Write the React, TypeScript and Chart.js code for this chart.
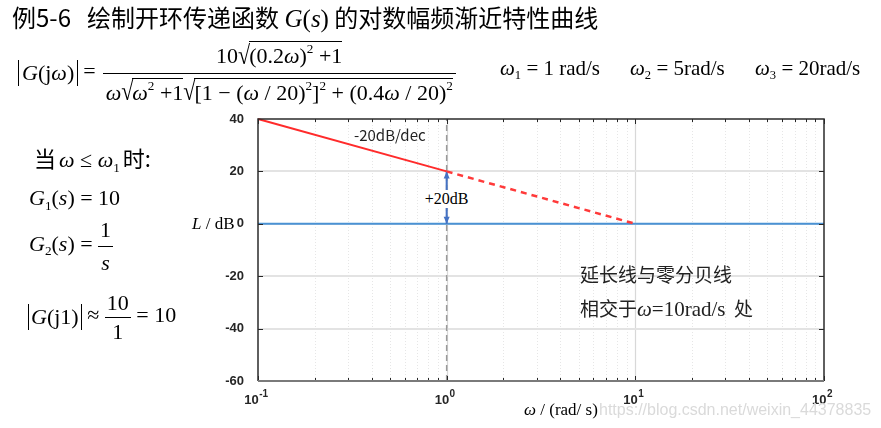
import React, { useEffect, useRef } from 'react';
import { Chart, registerables } from 'chart.js';

Chart.register(...registerables);

// ---- data ----
const X_MIN = 0.1;
const X_MAX = 100;
const Y_MIN = -60;
const Y_MAX = 40;
const Y_STEP = 20;
const yGridValues = [20, 0, -20, -40];
const xDecades = [0.1, 1, 10, 100];
const xDecadeExponents = ['-1', '0', '1', '2'];
const xMinor = [0.2, 0.3, 0.4, 0.5, 0.6, 0.7, 0.8, 0.9, 2, 3, 4, 5, 6, 7, 8, 9, 20, 30, 40, 50, 60, 70, 80, 90];
const slopeSolid = [{ x: 0.1, y: 40 }, { x: 1, y: 20 }];
const slopeDashed = [{ x: 1, y: 20 }, { x: 10, y: 0 }];
const zeroDbLine = [{ x: 0.1, y: 0 }, { x: 100, y: 0 }];
const cornerLine = [{ x: 1, y: -60 }, { x: 1, y: 40 }];
const gainArrow = [{ x: 1, y: 20 }, { x: 1, y: 0 }];

const serif = '"Liberation Serif", "Times New Roman", serif';
const cjk = '"Noto Sans CJK SC", "Noto Sans", sans-serif';
const sans = '"Liberation Sans", Arial, sans-serif';

const framePlugin = {
  id: 'frame',
  beforeDatasetsDraw(chart: any) {
    const { ctx, chartArea: a, scales } = chart;
    const x = scales.x, y = scales.y;
    ctx.save();
    ctx.strokeStyle = '#e6e6e6';
    ctx.lineWidth = 1;
    ctx.setLineDash([1, 2]);
    xMinor.forEach((v) => {
      const px = Math.round(x.getPixelForValue(v)) + 0.5;
      ctx.beginPath(); ctx.moveTo(px, a.top); ctx.lineTo(px, a.bottom); ctx.stroke();
    });
    ctx.setLineDash([]);
    ctx.strokeStyle = '#d8d8d8';
    ctx.lineWidth = 1.2;
    xDecades.slice(1, -1).forEach((v) => {
      const px = Math.round(x.getPixelForValue(v)) + 0.5;
      ctx.beginPath(); ctx.moveTo(px, a.top); ctx.lineTo(px, a.bottom); ctx.stroke();
    });
    ctx.strokeStyle = '#e3e3e3';
    ctx.lineWidth = 2;
    yGridValues.forEach((v) => {
      const py = Math.round(y.getPixelForValue(v));
      ctx.beginPath(); ctx.moveTo(a.left, py); ctx.lineTo(a.right, py); ctx.stroke();
    });
    ctx.restore();
  },
  afterDatasetsDraw(chart: any) {
    const { ctx, chartArea: a, scales } = chart;
    const x = scales.x, y = scales.y;
    ctx.save();
    // arrow heads
    const meta = chart.getDatasetMeta(2);
    const p0 = meta.data[0], p1 = meta.data[1];
    ctx.fillStyle = '#4472c4';
    ctx.beginPath();
    ctx.moveTo(p0.x, p0.y); ctx.lineTo(p0.x - 3, p0.y + 7); ctx.lineTo(p0.x + 3, p0.y + 7); ctx.closePath(); ctx.fill();
    ctx.beginPath();
    ctx.moveTo(p1.x, p1.y); ctx.lineTo(p1.x - 3, p1.y - 7); ctx.lineTo(p1.x + 3, p1.y - 7); ctx.closePath(); ctx.fill();
    // ticks
    ctx.strokeStyle = '#262626';
    ctx.lineWidth = 1;
    const tick = (px: number, len: number) => {
      const xx = Math.round(px) + 0.5;
      ctx.beginPath(); ctx.moveTo(xx, a.bottom); ctx.lineTo(xx, a.bottom - len); ctx.stroke();
      ctx.beginPath(); ctx.moveTo(xx, a.top); ctx.lineTo(xx, a.top + len); ctx.stroke();
    };
    xMinor.forEach((v) => tick(x.getPixelForValue(v), 3));
    xDecades.forEach((v) => tick(x.getPixelForValue(v), 5));
    yGridValues.forEach((v) => {
      const py = Math.round(y.getPixelForValue(v)) + 0.5;
      ctx.beginPath(); ctx.moveTo(a.left, py); ctx.lineTo(a.left + 5, py); ctx.stroke();
      ctx.beginPath(); ctx.moveTo(a.right, py); ctx.lineTo(a.right - 5, py); ctx.stroke();
    });
    // box
    ctx.lineWidth = 1.5;
    ctx.strokeStyle = '#2b2b2b';
    ctx.beginPath();
    ctx.moveTo(a.left, a.bottom); ctx.lineTo(a.left, a.top); ctx.lineTo(a.right, a.top); ctx.lineTo(a.right, a.bottom);
    ctx.stroke();
    ctx.strokeStyle = '#7a7a7a';
    ctx.lineWidth = 2;
    ctx.beginPath(); ctx.moveTo(a.left, a.bottom); ctx.lineTo(a.right, a.bottom); ctx.stroke();
    // x tick labels 10^n
    ctx.fillStyle = '#262626';
    xDecades.forEach((v, i) => {
      const px = x.getPixelForValue(v);
      ctx.font = `bold 13px ${sans}`;
      const bw = ctx.measureText('10').width;
      ctx.font = `bold 10px ${sans}`;
      const ew = ctx.measureText(xDecadeExponents[i]).width;
      const left = px - (bw + ew) / 2 - 2;
      ctx.font = `bold 13px ${sans}`;
      ctx.textBaseline = 'alphabetic';
      ctx.textAlign = 'left';
      ctx.fillText('10', left, a.bottom + 23);
      ctx.font = `bold 10px ${sans}`;
      ctx.fillText(xDecadeExponents[i], left + bw + 0.5, a.bottom + 16);
    });
    ctx.restore();
  },
};

const I = ({ children }: any) => <span style={{ fontStyle: 'italic' }}>{children}</span>;
const Sup = ({ children }: any) => (
  <span style={{ fontSize: '0.6em', verticalAlign: '0.75em', lineHeight: 0 }}>{children}</span>
);
const Sub = ({ children }: any) => (
  <span style={{ fontSize: '0.6em', verticalAlign: '-0.35em', lineHeight: 0 }}>{children}</span>
);
const Sqrt = ({ children }: any) => (
  <span style={{ display: 'inline-flex', alignItems: 'flex-end', verticalAlign: 'bottom' }}>
    <span style={{ display: 'inline-block', lineHeight: '1em', transform: 'scaleY(1.2)', transformOrigin: 'bottom', marginRight: -1 }}>√</span>
    <span style={{ display: 'inline-block', borderTop: '1px solid #000', lineHeight: '1.15em', paddingTop: 1 }}>{children}</span>
  </span>
);
const Frac = ({ num, den, gap = 1, pad = 2 }: any) => (
  <span style={{ display: 'inline-flex', flexDirection: 'column', alignItems: 'center', verticalAlign: 'middle' }}>
    <span style={{ padding: `0 ${pad}px ${gap}px`, lineHeight: '1.15em' }}>{num}</span>
    <span style={{ alignSelf: 'stretch', borderTop: '1px solid #000' }} />
    <span style={{ padding: `${gap}px ${pad}px 0`, lineHeight: '1.15em' }}>{den}</span>
  </span>
);
const Abs = ({ children, padX = 2 }: any) => (
  <span style={{ borderLeft: '1.3px solid #000', borderRight: '1.3px solid #000', padding: `0 ${padX}px`, display: 'inline-block', lineHeight: '1.2em', verticalAlign: 'middle' }}>{children}</span>
);

const Box = ({ left, cy, h, style, children }: any) => (
  <div style={{ position: 'absolute', left, top: cy - h / 2, height: h, display: 'flex', alignItems: 'center', whiteSpace: 'nowrap', color: '#000', ...style }}>
    <span>{children}</span>
  </div>
);

export default function App() {
  const canvasRef = useRef<HTMLCanvasElement | null>(null);
  useEffect(() => {
    const canvas = canvasRef.current;
    if (!canvas) return;
    const chart = new Chart(canvas, {
      type: 'line',
      data: {
        datasets: [
          { data: slopeSolid, borderColor: '#ff2b2b', borderWidth: 2, pointRadius: 0, clip: false },
          { data: slopeDashed, borderColor: '#ff3a3a', borderWidth: 2.5, borderDash: [6, 5], pointRadius: 0 },
          { data: gainArrow, borderColor: '#4472c4', borderWidth: 2, pointRadius: 0 },
          { data: zeroDbLine, borderColor: '#4a92d4', borderWidth: 2, pointRadius: 0 },
          { data: cornerLine, borderColor: '#9a9a9a', borderWidth: 1.5, borderDash: [6, 4], pointRadius: 0 },
        ],
      } as any,
      options: {
        animation: false,
        responsive: false,
        devicePixelRatio: 1,
        layout: { padding: { left: 200, right: 57, top: 119, bottom: 47 } },
        plugins: { legend: { display: false }, tooltip: { enabled: false } },
        scales: {
          x: {
            type: 'logarithmic',
            min: X_MIN,
            max: X_MAX,
            grid: { display: false },
            border: { display: false },
            ticks: { display: false },
            afterFit: (s: any) => { s.height = 0; },
          },
          y: {
            type: 'linear',
            min: Y_MIN,
            max: Y_MAX,
            grid: { display: false },
            border: { display: false },
            ticks: { stepSize: Y_STEP, padding: 6, color: '#262626', font: { family: sans, size: 13, weight: 'bold' } },
            afterFit: (s: any) => { s.width = 58; },
          },
        },
      } as any,
      plugins: [framePlugin],
    });
    return () => chart.destroy();
  }, []);

  return (
    <div style={{ position: 'fixed', left: 0, top: 0, width: 881, height: 428, background: '#fff', overflow: 'hidden' }}>
      <canvas ref={canvasRef} width={881} height={428} style={{ position: 'absolute', left: 0, top: 0 }} />

      {/* title */}
      <Box left={12} cy={16} h={32} style={{ font: `24px ${cjk}` }}>
        例5-6&nbsp;&nbsp;&nbsp;绘制开环传递函数&nbsp;<span style={{ font: `25px ${serif}` }}><I>G</I>(<I>s</I>)</span>&nbsp;的对数幅频渐近特性曲线
      </Box>

      {/* main formula */}
      <Box left={18} cy={73} h={78} style={{ font: `22px ${serif}` }}>
        <Abs padX={3}><I>G</I>(j<I>ω</I>)</Abs>
        <span style={{ margin: '0 7px 0 5px' }}>=</span>
        <Frac
          gap={4}
          pad={3}
          num={<>10<Sqrt>(0.2<I>ω</I>)<Sup>2</Sup> +1</Sqrt></>}
          den={<><I>ω</I><Sqrt><I>ω</I><Sup>2</Sup> +1</Sqrt><Sqrt>[1 − (<I>ω</I> / 20)<Sup>2</Sup>]<Sup>2</Sup> + (0.4<I>ω</I> / 20)<Sup>2</Sup></Sqrt></>}
        />
      </Box>

      <Box left={500} cy={68} h={26} style={{ font: `21px ${serif}` }}><I>ω</I><Sub>1</Sub> = 1 rad/s</Box>
      <Box left={630} cy={68} h={26} style={{ font: `21px ${serif}` }}><I>ω</I><Sub>2</Sub> = 5rad/s</Box>
      <Box left={755} cy={68} h={26} style={{ font: `21px ${serif}` }}><I>ω</I><Sub>3</Sub> = 20rad/s</Box>

      {/* left notes */}
      <Box left={34} cy={157} h={32} style={{ font: `22px ${cjk}` }}>
        当<span style={{ font: `22px ${serif}`, margin: '0 3px' }}><I>ω</I> ≤ <I>ω</I><Sub>1</Sub></span>时:
      </Box>
      <Box left={29} cy={198} h={30} style={{ font: `22px ${serif}` }}>
        <I>G</I><Sub>1</Sub>(<I>s</I>) = 10
      </Box>
      <Box left={29} cy={246} h={56} style={{ font: `22px ${serif}` }}>
        <I>G</I><Sub>2</Sub>(<I>s</I>) =&nbsp;<Frac num={<>1</>} den={<I>s</I>} gap={3} />
      </Box>
      <Box left={28} cy={317} h={56} style={{ font: `22px ${serif}` }}>
        <Abs><I>G</I>(j1)</Abs>&nbsp;≈&nbsp;<Frac num={<>10</>} den={<>1</>} gap={1} />&nbsp;= 10
      </Box>

      {/* chart annotations */}
      <Box left={354} cy={134} h={20} style={{ font: `15px ${cjk}`, color: '#222' }}>-20dB/dec</Box>
      <div style={{ position: 'absolute', left: 446.5, top: 199, transform: 'translate(-50%, -50%)', fontFamily: serif, fontSize: 16, background: '#fff', lineHeight: '16px', padding: '1px 1px', whiteSpace: 'nowrap' }}>+20dB</div>
      <Box left={580} cy={273} h={28} style={{ font: `19px ${cjk}`, color: '#222' }}>延长线与零分贝线</Box>
      <Box left={580} cy={308} h={28} style={{ font: `19px ${cjk}`, color: '#222' }}>
        相交于<span style={{ font: `21px ${serif}` }}><I>ω</I>=10rad/s</span>&nbsp;&nbsp;处
      </Box>
      <Box left={192} cy={224} h={22} style={{ font: `17px ${serif}` }}><I>L</I>&nbsp;/ dB</Box>
      <Box left={524} cy={410} h={22} style={{ font: `17px ${serif}` }}><I>ω</I>&nbsp;/ (rad/ s)</Box>
      <Box left={599} cy={410} h={22} style={{ font: `16px ${sans}`, color: '#dadada' }}>https://blog.csdn.net/weixin_44378835</Box>
    </div>
  );
}
